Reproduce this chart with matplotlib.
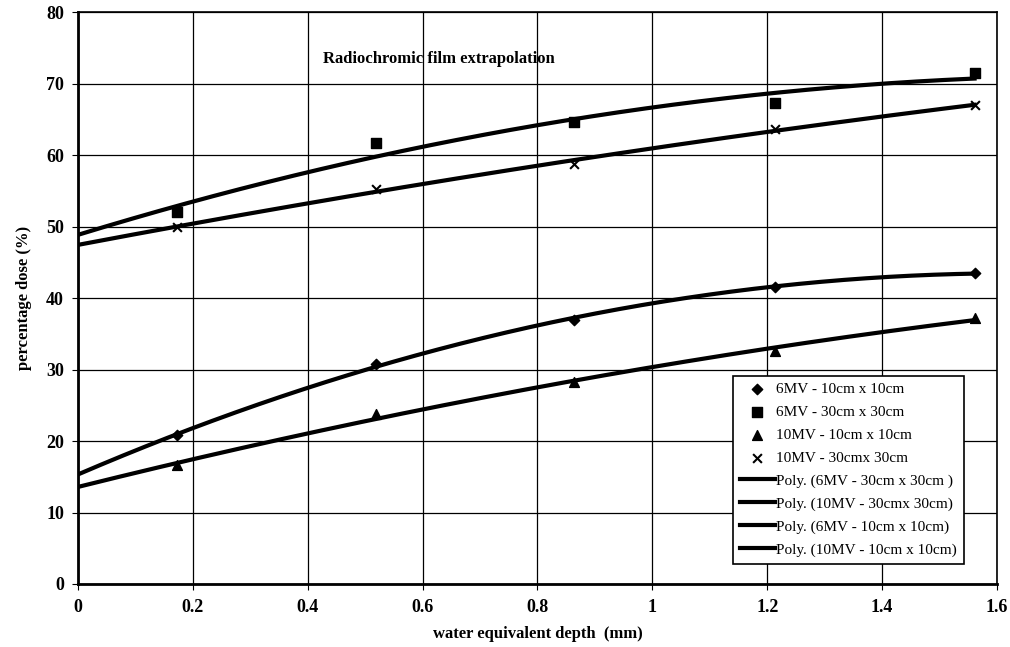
import numpy as np
import matplotlib.pyplot as plt

plt.rcParams['font.family'] = ['Liberation Serif', 'DejaVu Serif']

# depth values (mm)
depth = [0.172, 0.519, 0.864, 1.214, 1.561]

# measured percentage dose
mv6_10 = [20.8, 30.8, 37.0, 41.6, 43.5]
mv6_30 = [52.0, 61.7, 64.7, 67.3, 71.5]
mv10_10 = [16.6, 23.8, 28.3, 32.6, 37.2]
mv10_30 = [49.9, 55.3, 58.8, 63.7, 67.0]

fig = plt.figure(figsize=(10.1, 6.47), dpi=100)
ax = fig.add_axes([0.0772, 0.0974, 0.9099, 0.8836])

ax.scatter(depth, mv6_10, marker="D", s=28, color="black", label="6MV - 10cm x 10cm", zorder=4)
ax.scatter(depth, mv6_30, marker="s", s=45, color="black", label="6MV - 30cm x 30cm", zorder=4)
ax.scatter(depth, mv10_10, marker="^", s=50, color="black", label="10MV - 10cm x 10cm", zorder=4)
ax.scatter(depth, mv10_30, marker="x", s=40, color="black", linewidths=1.5, label="10MV - 30cmx 30cm", zorder=4)

# 2nd order polynomial trend lines, extrapolated to zero depth
xs = np.linspace(0, depth[-1], 200)
fits = [
    (mv6_30, "Poly. (6MV - 30cm x 30cm )"),
    (mv10_30, "Poly. (10MV - 30cmx 30cm)"),
    (mv6_10, "Poly. (6MV - 10cm x 10cm)"),
    (mv10_10, "Poly. (10MV - 10cm x 10cm)"),
]
for ys, lab in fits:
    c = np.polyfit(depth, ys, 2)
    ax.plot(xs, np.polyval(c, xs), color="black", linewidth=3, label=lab, zorder=3)

ax.set_xlim(0, 1.6)
ax.set_ylim(0, 80)
ax.set_xticks(np.arange(0, 1.61, 0.2))
ax.set_xticklabels(["0", "0.2", "0.4", "0.6", "0.8", "1", "1.2", "1.4", "1.6"])
ax.set_yticks(range(0, 81, 10))
ax.grid(True, color="black", linewidth=0.9)
ax.set_axisbelow(True)
for s in ax.spines.values():
    s.set_linewidth(1.2)
ax.spines["left"].set_linewidth(2)
ax.spines["bottom"].set_linewidth(2)
ax.tick_params(direction="out", length=4, labelsize=13)
ax.tick_params(axis="y", pad=6)
ax.tick_params(axis="x", pad=7)
for t in ax.get_xticklabels() + ax.get_yticklabels():
    t.set_fontweight("bold")

ax.set_xlabel("water equivalent depth  (mm)", fontsize=12, fontweight="bold", labelpad=7)
ax.set_ylabel("percentage dose (%)", fontsize=12, fontweight="bold", labelpad=10)
ax.text(0.629, 73.5, "Radiochromic film extrapolation", fontsize=12, fontweight="bold", ha="center", va="center")

leg = ax.legend(loc="lower right", bbox_to_anchor=(0.9725, 0.022), fontsize=11, frameon=True,
                fancybox=False, edgecolor="black", framealpha=1, handlelength=2.3,
                handletextpad=0.1, borderpad=0.45, labelspacing=0.6)
leg.get_frame().set_linewidth(1.2)

fig.savefig("out.png", dpi=100)
